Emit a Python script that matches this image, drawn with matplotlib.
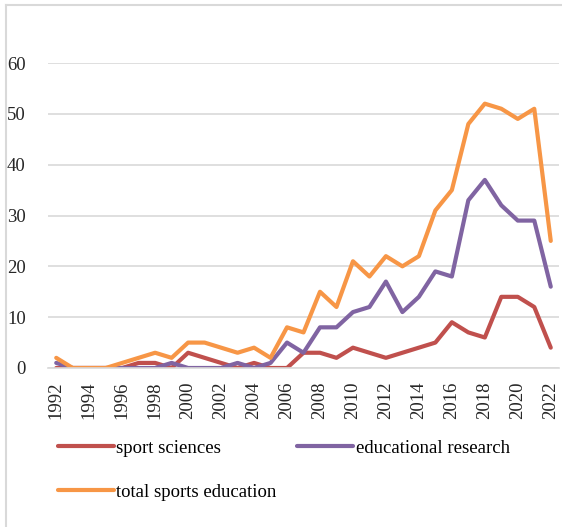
import matplotlib.pyplot as plt
from matplotlib.lines import Line2D

# publications per year
years = list(range(1992, 2023))
sport_sciences = [0, 0, 0, 0, 0, 1, 1, 0, 3, 2, 1, 0, 1, 0, 0, 3,
                  3, 2, 4, 3, 2, 3, 4, 5, 9, 7, 6, 14, 14, 12, 4]
educational_research = [1, 0, 0, 0, 0, 0, 0, 1, 0, 0, 0, 1, 0, 1, 5, 3,
                        8, 8, 11, 12, 17, 11, 14, 19, 18, 33, 37, 32, 29, 29, 16]
total_sports_education = [2, 0, 0, 0, 1, 2, 3, 2, 5, 5, 4, 3, 4, 2, 8, 7,
                          15, 12, 21, 18, 22, 20, 22, 31, 35, 48, 52, 51, 49, 51, 25]
year_labels = [str(y) for y in years[::2]]
y_ticks = [0, 10, 20, 30, 40, 50, 60]

plt.rcParams['font.family'] = ['Liberation Serif', 'DejaVu Serif']

W, H = 562, 527
fig = plt.figure(figsize=(W / 100, H / 100), dpi=100)
ax = fig.add_axes([48 / W, 1 - 368 / H, (559 - 48) / W, (368 - 63) / H])

lw = 3.0
l1, = ax.plot(years, sport_sciences, color='#C0504D', lw=lw, solid_capstyle='round', solid_joinstyle='round', label='sport sciences')
l2, = ax.plot(years, educational_research, color='#8064A2', lw=lw, solid_capstyle='round', solid_joinstyle='round', label='educational research')
l3, = ax.plot(years, total_sports_education, color='#F79646', lw=lw, solid_capstyle='round', solid_joinstyle='round', label='total sports education')

ax.set_xlim(1991.5, 2022.5)
ax.set_ylim(0, 60)
ax.set_yticks(y_ticks)
ax.set_xticks(years[::2])
ax.set_xticklabels(year_labels, rotation=90)
ax.tick_params(axis='y', length=0, pad=16, labelsize=13.5, colors='#262626')
ax.tick_params(axis='x', length=0, pad=10, labelsize=13.5, colors='#262626')
ax.grid(axis='y', color='#D9D9D9', lw=1.2)
ax.set_axisbelow(True)
for s in ['top', 'right', 'left']:
    ax.spines[s].set_visible(False)
ax.spines['bottom'].set_color('#D9D9D9')
ax.spines['bottom'].set_linewidth(1.2)

# legend in two columns, reordered so it fills row-wise
fig.legend([l1, l3, l2], [l1.get_label(), l3.get_label(), l2.get_label()],
           ncol=2, loc='upper left', bbox_to_anchor=(50 / W, 1 - 432 / H),
           frameon=False, fontsize=13.5, handlelength=3.0, handletextpad=0.12,
           columnspacing=1.1, labelspacing=1.45, borderaxespad=0)

# chart border (only top and left visible in the crop)
fig.add_artist(Line2D([6 / W, 1], [1 - 5 / H, 1 - 5 / H], color='#D9D9D9', lw=1.5))
fig.add_artist(Line2D([6 / W, 6 / W], [0, 1 - 5 / H], color='#D9D9D9', lw=1.5))

fig.savefig('out.png', dpi=100)
